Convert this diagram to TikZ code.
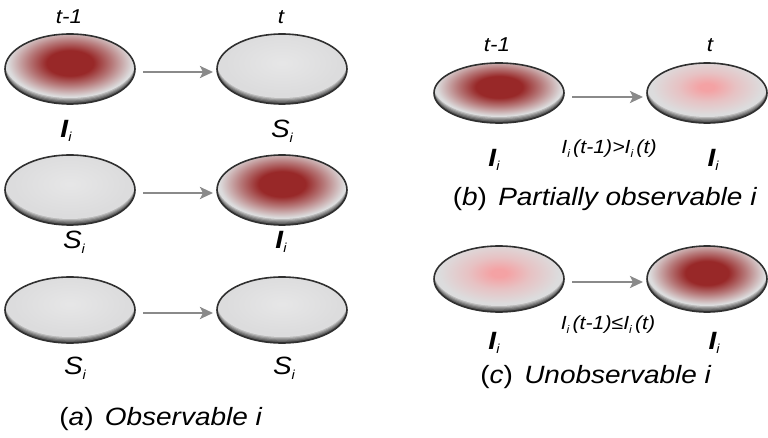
\documentclass[tikz,border=0pt]{standalone}
\usepackage{fontspec}
\setmainfont{Liberation Sans}[FakeStretch=1.12]
\usetikzlibrary{arrows.meta,shapes.geometric}

\definecolor{eggbody}{HTML}{DCDCDD}
\definecolor{eggedge}{HTML}{303030}
\definecolor{hotred}{HTML}{982828}
\definecolor{warmpink}{HTML}{F4A2A4}
\definecolor{arrowgray}{HTML}{8A8A8A}
\definecolor{rimA}{HTML}{484848}
\definecolor{rimB}{HTML}{626262}
\definecolor{rimC}{HTML}{7E7E7E}
\definecolor{rimD}{HTML}{9C9C9C}
\definecolor{rimE}{HTML}{BABABA}

% body shadings: elliptic glow stretched over the egg's bounding box
\pgfdeclareradialshading{hotcore}{\pgfpoint{0bp}{0bp}}{color(0bp)=(hotred); color(9bp)=(hotred); color(16bp)=(hotred!55!eggbody); color(24bp)=(eggbody); color(50bp)=(eggbody)}
\pgfdeclareradialshading{warmcore}{\pgfpoint{0bp}{0bp}}{color(0bp)=(warmpink); color(3bp)=(warmpink); color(12bp)=(warmpink!45!eggbody); color(23bp)=(eggbody); color(50bp)=(eggbody)}
\pgfdeclareradialshading{coolcore}{\pgfpoint{0bp}{0bp}}{color(0bp)=(eggbody!70!white); color(22bp)=(eggbody); color(50bp)=(eggbody)}

\tikzset{
  eggnode/.style={ellipse, draw=eggedge, line width=1.6pt, inner sep=0pt, outer sep=0pt},
  flow/.style={draw=arrowgray, line width=2.6pt, -{Stealth[length=13pt,width=12pt,inset=3pt]},
               shorten <=8pt, shorten >=4pt},
  steplbl/.style={font=\fontsize{20}{20}\selectfont\itshape, inner sep=0pt},
  statelbl/.style={font=\fontsize{25}{25}\selectfont\itshape, inner sep=0pt},
  rellbl/.style={font=\fontsize{19}{19}\selectfont\itshape, inner sep=0pt},
  caplbl/.style={font=\fontsize{25}{25}\selectfont, inner sep=0pt},
}

\newcommand\idx{\raisebox{-0.35ex}{\fontsize{13}{13}\selectfont\itshape i}}
\newcommand\sidx{\raisebox{-0.35ex}{\fontsize{11}{11}\selectfont\itshape i}}

% \egg{name}{x}{y}{x radius}{y radius}{shading}
\newcommand\egg[6]{%
  \begin{scope}
    \clip (#2,#3) ellipse [x radius=#4pt, y radius=#5pt];
    \fill[rimA] (#2,#3) ellipse [x radius=#4pt, y radius=#5pt];
    \fill[rimB] (#2,#3-1.2) ellipse [x radius=#4pt, y radius=#5pt];
    \fill[rimC] (#2,#3-2.4) ellipse [x radius=#4pt, y radius=#5pt];
    \fill[rimD] (#2,#3-3.6) ellipse [x radius=#4pt, y radius=#5pt];
    \fill[rimE] (#2,#3-4.8) ellipse [x radius=#4pt, y radius=#5pt];
    \shade[shading=#6] (#2,#3-6) ellipse [x radius=#4pt, y radius=#5pt];
  \end{scope}
  \node[eggnode, minimum width={2*#4pt}, minimum height={2*#5pt}] (#1) at (#2,#3) {};
}

\begin{document}
\begin{tikzpicture}[x=1pt, y=-1pt]
\useasboundingbox (0,0) rectangle (768,438);

% ---------------- (a) observable ----------------
\node[steplbl] (ta1) at (69,17) {t-1};
\node[steplbl] (ta2) at (281,17) {t};

\egg{a11}{70}{69}{65}{35}{hotcore}
\egg{a12}{282}{69}{65}{35}{coolcore}
\draw[flow] ([yshift=-3pt]a11.east) -- ([yshift=-3pt]a12.west);
\node[statelbl] (la11) at (66,131) {\textbf{I}\idx};
\node[statelbl] (la12) at (282,131) {S\idx};

\egg{a21}{70}{190}{65}{35}{coolcore}
\egg{a22}{282}{190}{65}{35}{hotcore}
\draw[flow] ([yshift=-3pt]a21.east) -- ([yshift=-3pt]a22.west);
\node[statelbl] (la21) at (74,242) {S\idx};
\node[statelbl] (la22) at (281,242) {\textbf{I}\idx};

\egg{a31}{70}{310}{65}{33}{coolcore}
\egg{a32}{282}{310}{65}{33}{coolcore}
\draw[flow] ([yshift=-3pt]a31.east) -- ([yshift=-3pt]a32.west);
\node[statelbl] (la31) at (75,368) {S\idx};
\node[statelbl] (la32) at (284,368) {S\idx};

\node[caplbl] (capa) at (161,419) {(\textit{a})\hspace{0.45em}\textit{Observable i}};

% ---------------- (b) partially observable ----------------
\node[steplbl] (tb1) at (497,45) {t-1};
\node[steplbl] (tb2) at (710,45) {t};

\egg{b1}{499}{93}{65}{30}{hotcore}
\egg{b2}{707}{93}{60}{30}{warmcore}
\draw[flow] ([yshift=-4pt]b1.east) -- ([yshift=-4pt]b2.west);
\node[rellbl] (rb) at (609,149) {I\sidx\,(t-1)>I\sidx\,(t)};
\node[statelbl] (lb1) at (494,160) {\textbf{I}\idx};
\node[statelbl] (lb2) at (713,160) {\textbf{I}\idx};

\node[caplbl] (capb) at (605,199) {(\textit{b})\hspace{0.45em}\textit{Partially observable i}};

% ---------------- (c) unobservable ----------------
\egg{c1}{499}{279}{65}{33}{warmcore}
\egg{c2}{707}{279}{60}{33}{hotcore}
\draw[flow] ([yshift=-3pt]c1.east) -- ([yshift=-3pt]c2.west);
\node[rellbl] (rc) at (608,325) {I\sidx\,(t-1)≤I\sidx\,(t)};
\node[statelbl] (lc1) at (494,343) {\textbf{I}\idx};
\node[statelbl] (lc2) at (714,343) {\textbf{I}\idx};

\node[caplbl] (capc) at (596,377) {(\textit{c})\hspace{0.45em}\textit{Unobservable i}};
\end{tikzpicture}
\end{document}
